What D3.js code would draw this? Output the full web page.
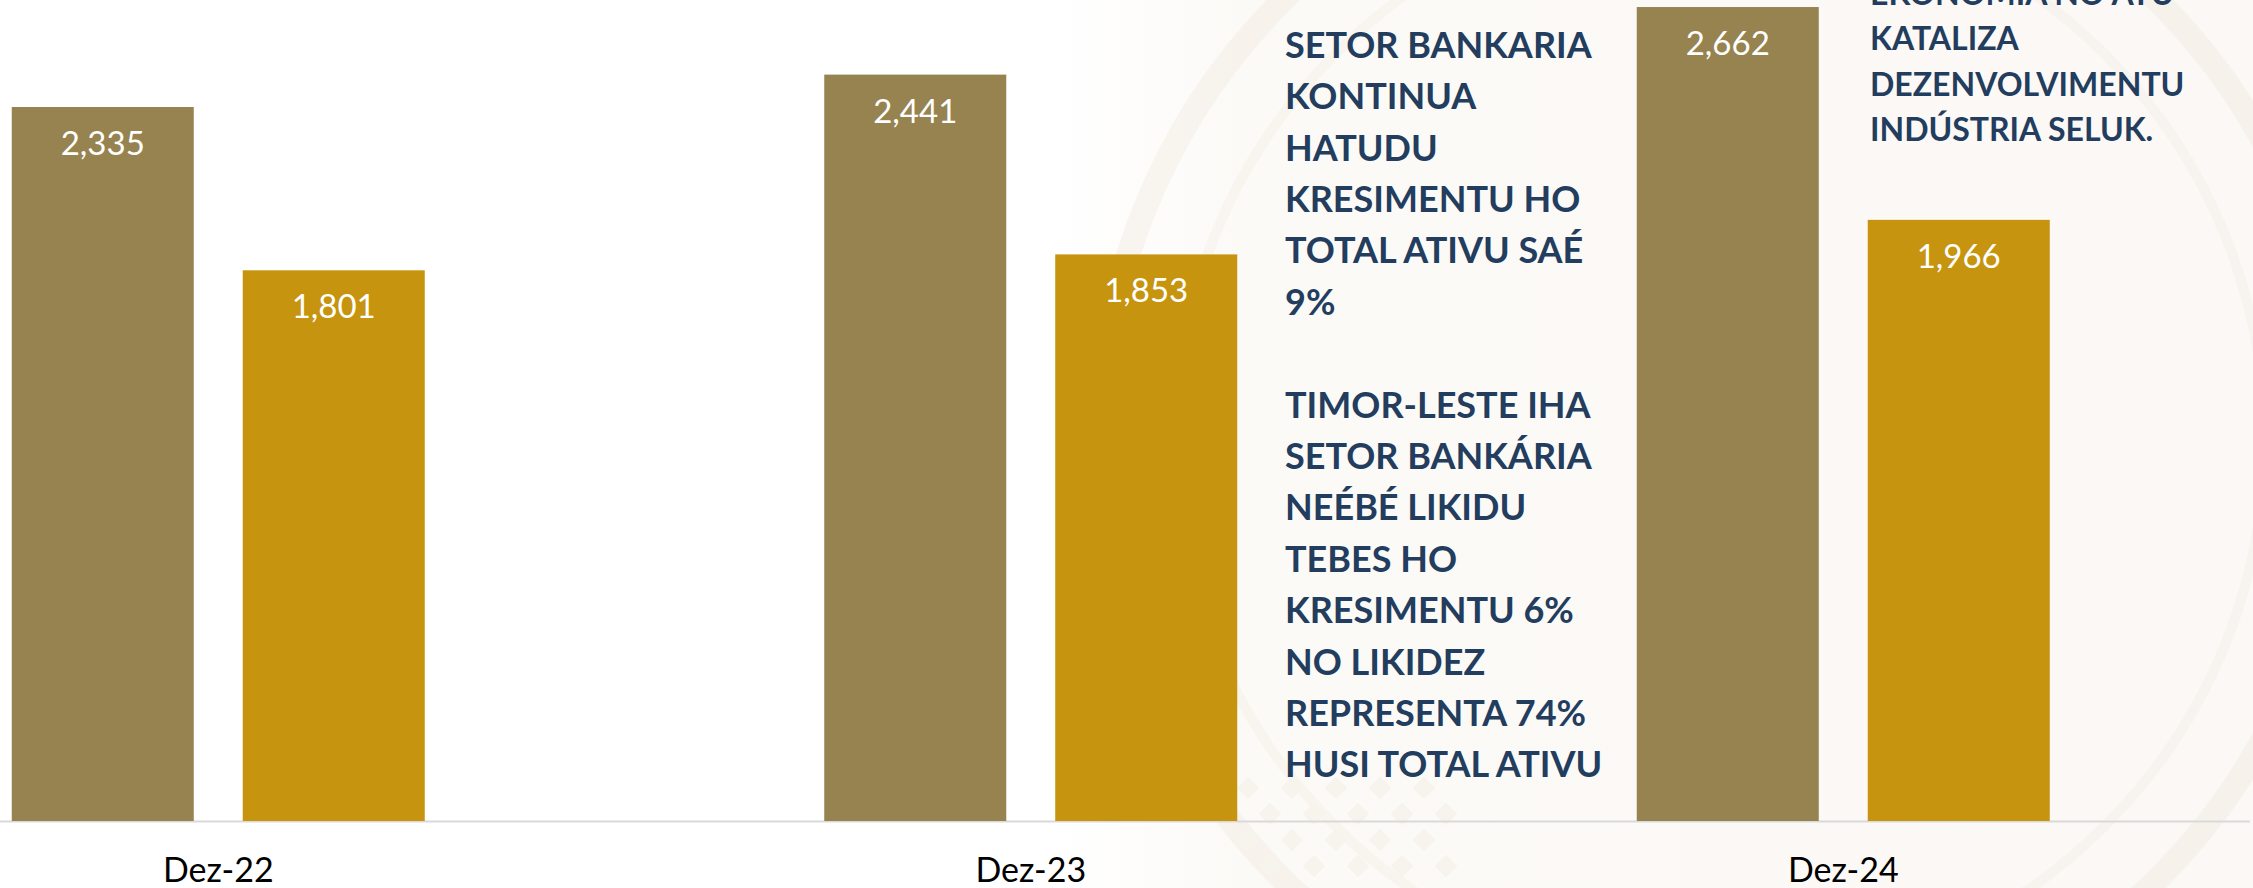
<!DOCTYPE html>
<html>
<head>
<meta charset="utf-8">
<script src="https://cdn.jsdelivr.net/npm/d3@7"></script>
<style>
  html, body { margin: 0; padding: 0; background: #ffffff; }
  svg { display: block; }
</style>
</head>
<body>
<div id="chart"></div>
<script>
// Chart data
const categories = ["Dez-22", "Dez-23", "Dez-24"];
const seriesKeys = ["totalAtivu", "likidez"];
const totalAtivu = [2335, 2441, 2662];
const likidez = [1801, 1853, 1966];
const seriesColors = ["#978350", "#C6940E"];

// Annotation texts
const noteLeft = [
  "SETOR BANKARIA", "KONTINUA", "HATUDU", "KRESIMENTU HO", "TOTAL ATIVU SAÉ", "9%",
  "",
  "TIMOR-LESTE IHA", "SETOR BANKÁRIA", "NEÉBÉ LIKIDU", "TEBES HO", "KRESIMENTU 6%",
  "NO LIKIDEZ", "REPRESENTA 74%", "HUSI TOTAL ATIVU"
];
const noteRight = ["EKONOMIA NO ATU", "KATALIZA", "DEZENVOLVIMENTU", "INDÚSTRIA SELUK."];

const W = 2253, H = 888;
const baseY = 821;

const svg = d3.select("#chart")
  .append("svg")
    .attr("width", W)
    .attr("height", H);

// Background + faint watermark on the right
const defs = svg.append("defs");
const grad = defs.append("linearGradient").attr("id", "bgfade")
  .attr("x1", 0).attr("x2", 1).attr("y1", 0).attr("y2", 0);
grad.append("stop").attr("offset", "0%").attr("stop-color", "#ffffff");
grad.append("stop").attr("offset", "15%").attr("stop-color", "#FCFAF7");
grad.append("stop").attr("offset", "100%").attr("stop-color", "#FBF8F5");

svg.append("rect").attr("width", W).attr("height", H).attr("fill", "#ffffff");
svg.append("rect").attr("x", 1060).attr("width", W - 1060).attr("height", H)
  .attr("fill", "url(#bgfade)");

const wm = svg.append("g").attr("class", "watermark").attr("opacity", 0.35);
wm.append("circle").attr("cx", 1720).attr("cy", 440).attr("r", 620)
  .attr("fill", "none").attr("stroke", "#EFE7DA").attr("stroke-width", 24);
wm.append("circle").attr("cx", 1720).attr("cy", 440).attr("r", 545)
  .attr("fill", "none").attr("stroke", "#F2ECE2").attr("stroke-width", 10);
// tais-like diamonds along the lower left of the emblem
const diamonds = d3.range(0, 5).flatMap(i => d3.range(0, 4).map(j => [1240 + i * 44 + (j % 2) * 22, 780 + j * 26]));
wm.selectAll("rect.dm").data(diamonds).enter().append("rect")
  .attr("class", "dm")
  .attr("x", d => d[0]).attr("y", d => d[1])
  .attr("width", 16).attr("height", 16)
  .attr("transform", d => `rotate(45,${d[0] + 8},${d[1] + 8})`)
  .attr("fill", "#EFE7DB");

// Scales
const x = d3.scaleBand().domain(categories).range([-188, 2249.5]).padding(0);
const groupWidth = 413;
const xSub = d3.scaleBand().domain(seriesKeys).range([0, groupWidth]).paddingInner(0.212);
const y = d3.scaleLinear().domain([0, 2685]).range([baseY, 0]);

const data = categories.map((c, i) => ({
  category: c,
  values: [
    { key: "totalAtivu", value: totalAtivu[i] },
    { key: "likidez", value: likidez[i] }
  ]
}));
const color = d3.scaleOrdinal().domain(seriesKeys).range(seriesColors);

// Axis (baseline + category labels)
const xAxis = svg.append("g")
  .attr("class", "x-axis")
  .attr("transform", `translate(0,${baseY})`)
  .call(d3.axisBottom(x).tickSize(0).tickPadding(0));
xAxis.select(".domain").attr("stroke", "#D9D9D9").attr("stroke-width", 2);
xAxis.selectAll("text")
  .attr("y", 61).attr("dy", 0)
  .attr("fill", "#000000")
  .style("font-family", "Lato, 'Open Sans', sans-serif")
  .style("font-size", "34px");

// Bars
const groups = svg.selectAll("g.cat")
  .data(data)
  .enter().append("g")
    .attr("class", "cat")
    .attr("transform", d => `translate(${x(d.category) + (x.bandwidth() - groupWidth) / 2},0)`);

groups.selectAll("rect")
  .data(d => d.values)
  .enter().append("rect")
    .attr("x", d => xSub(d.key))
    .attr("y", d => y(d.value))
    .attr("width", xSub.bandwidth())
    .attr("height", d => baseY - y(d.value))
    .attr("fill", d => color(d.key));

groups.selectAll("text.val")
  .data(d => d.values)
  .enter().append("text")
    .attr("class", "val")
    .attr("x", d => xSub(d.key) + xSub.bandwidth() / 2)
    .attr("y", d => y(d.value) + 48)
    .attr("text-anchor", "middle")
    .attr("fill", "#ffffff")
    .style("font-family", "Lato, 'Open Sans', sans-serif")
    .style("font-size", "33px")
    .text(d => d3.format(",")(d.value));

// Annotation text blocks
svg.append("text")
  .attr("class", "note-left")
  .attr("fill", "#233D5E")
  .style("font-family", "Lato, 'Open Sans', sans-serif")
  .style("font-weight", "bold")
  .style("font-size", "36px")
  .selectAll("tspan")
  .data(noteLeft)
  .enter().append("tspan")
    .attr("x", 1285)
    .attr("y", (d, i) => 57.7 + i * 51.4)
    .text(d => d);

svg.append("text")
  .attr("class", "note-right")
  .attr("fill", "#233D5E")
  .style("font-family", "Lato, 'Open Sans', sans-serif")
  .style("font-weight", "bold")
  .style("font-size", "32px")
  .selectAll("tspan")
  .data(noteRight)
  .enter().append("tspan")
    .attr("x", 1870)
    .attr("y", (d, i) => 4.8 + i * 45.5)
    .text(d => d);
</script>
</body>
</html>
